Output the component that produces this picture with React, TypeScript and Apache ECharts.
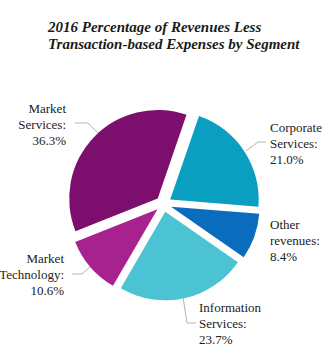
import React, { useEffect, useRef } from "react";
import * as echarts from "echarts";

const titleLines = ["2016 Percentage of Revenues Less", "Transaction-based Expenses by Segment"];
const categories = ["Corporate Services", "Other revenues", "Information Services", "Market Technology", "Market Services"];
const values = [21.0, 8.4, 23.7, 10.6, 36.3];
const colors = ["#0a9fc1", "#0a6cbd", "#4bc3d2", "#a8228f", "#7c0f6d"];

const SERIF = '"Liberation Serif", "Times New Roman", Times, serif';

// label placement (layout only)
const labelPos: { x: number; y: number; align: "left" | "right"; line: number[][] | null }[] = [
  { x: 270, y: 119, align: "left", line: [[246, 151], [258, 142], [266, 142]] },
  { x: 270, y: 216, align: "left", line: null },
  { x: 199, y: 299, align: "left", line: [[183, 297], [187, 323], [196, 323]] },
  { x: 64, y: 250, align: "right", line: [[90, 267], [82, 274], [72, 274]] },
  { x: 66, y: 100, align: "right", line: [[100, 135], [88, 123], [75, 123]] },
];

const labelText = (i: number) =>
  categories[i].replace(" ", "\n") + ":\n" + values[i].toFixed(1) + "%";

export default function App() {
  const ref = useRef<HTMLDivElement>(null);
  useEffect(() => {
    const chart = echarts.init(ref.current!, undefined, { renderer: "svg" });
    const graphics: any[] = [];
    categories.forEach((_, i) => {
      const lp = labelPos[i];
      if (lp.line) {
        graphics.push({
          type: "polyline",
          silent: true,
          shape: { points: lp.line },
          style: { stroke: "#b3b3b3", lineWidth: 1, fill: "none" },
        });
      }
      graphics.push({
        type: "text",
        x: lp.x,
        y: lp.y,
        silent: true,
        style: {
          text: labelText(i),
          fontFamily: SERIF,
          fontSize: 13,
          lineHeight: 16,
          fill: "#222",
          align: lp.align,
          verticalAlign: "top",
        },
      });
    });
    chart.setOption({
      animation: false,
      title: {
        text: titleLines.join("\n"),
        left: 48,
        top: 18,
        padding: 0,
        textStyle: {
          fontFamily: SERIF,
          fontStyle: "italic",
          fontWeight: "bold",
          fontSize: 15,
          lineHeight: 17,
          color: "#1a1a1a",
        },
      },
      graphic: graphics,
      series: [
        {
          type: "pie",
          center: [163.5, 204],
          radius: [0, 88.5],
          startAngle: 71,
          clockwise: true,
          selectedMode: "multiple",
          selectedOffset: 8,
          emphasis: { disabled: true },
          itemStyle: { borderWidth: 0 },
          label: { show: false },
          labelLine: { show: false },
          data: categories.map((c, i) => ({
            name: c,
            value: values[i],
            selected: true,
            itemStyle: { color: colors[i] },
          })),
        },
      ],
    });
    return () => chart.dispose();
  }, []);
  return (
    <div
      ref={ref}
      style={{ position: "fixed", left: 0, top: 0, width: 325, height: 358, background: "#fff" }}
    />
  );
}
